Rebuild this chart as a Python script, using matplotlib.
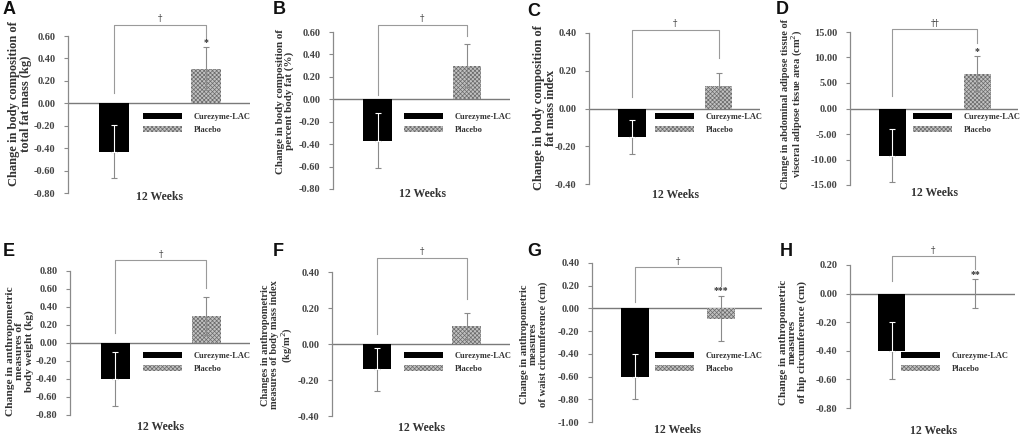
import matplotlib
matplotlib.use('Agg')
import matplotlib.pyplot as plt
from matplotlib.patches import Patch
from matplotlib.transforms import blended_transform_factory
import numpy as np

# ---------------- data ----------------
panels = ['A', 'B', 'C', 'D', 'E', 'F', 'G', 'H']
groups = ['Curezyme-LAC', 'Placebo']
xlabel = '12 Weeks'
ylabels = [
    'Change in body composition of\ntotal fat mass (kg)',
    'Change in body composition of\npercent body fat (%)',
    'Change in body composition of\nfat mass index',
    'Change in abdominal adipose tissue of\nvisceral adipose tissue area (cm$^{2}$)',
    'Change in anthropometric\nmeasures of\nbody weight (kg)',
    'Changes in anthropometric\nmeasures of body mass index\n(kg/m$^{2}$)',
    'Change in anthropometric\nmeasures\nof waist circumference (cm)',
    'Change in anthropometric\nmeasures\nof hip circumference (cm)',
]
y_min = [-0.8, -0.8, -0.4, -15, -0.8, -0.4, -1.0, -0.8]
y_max = [0.6, 0.6, 0.4, 15, 0.8, 0.4, 0.4, 0.2]
y_step = [0.2, 0.2, 0.2, 5, 0.2, 0.2, 0.2, 0.2]

cur_mean = [-0.43, -0.37, -0.15, -9.3, -0.40, -0.14, -0.60, -0.40]
cur_err = [0.24, 0.245, 0.09, 5.2, 0.30, 0.12, 0.20, 0.20]
pla_mean = [0.31, 0.30, 0.12, 6.8, 0.30, 0.10, -0.09, 0.00]
pla_err = [0.19, 0.19, 0.07, 3.4, 0.21, 0.07, 0.20, 0.10]

bracket_top = [0.70, 0.665, 0.418, 15.6, 0.92, 0.48, 0.365, 0.26]
bracket_left = [0.09, 0.04, 0.063, 2.4, 0.11, 0.056, 0.06, 0.09]
bracket_right = [0.56, 0.56, 0.27, 12.8, 0.61, 0.25, 0.20, 0.17]
bracket_mark = ['\u2020', '\u2020', '\u2020', '\u2020\u2020', '\u2020', '\u2020', '\u2020', '\u2020']
star_mark = ['*', '', '', '*', '', '', '***', '**']

# ---------------- layout (pixels) ----------------
W, H = 1024, 438
axes_px = [  # left, top, right, bottom
    (68, 36, 250, 193), (333, 32, 510, 189), (589, 33, 760, 184), (850, 32, 1018, 185),
    (70, 271, 250, 415), (332, 272, 510, 416), (592, 263, 762, 422), (850, 265, 1015, 408),
]
letter_px = [(3, 10), (273, 10), (527, 11), (776, 9), (3, 252), (273, 251), (527, 251), (780, 251)]
ylabel_x_px = [20, 285, 545, 793, 20, 278, 534, 793]
ylabel_y_px = [104, 101, 108, 104, 351, 345, 344, 342]
ylabel_size = [9, 7.9, 9, 7.5, 8.2, 7.5, 7.7, 8.0]
legend_px = [(143, 118), (404, 118), (655, 118), (913, 118),
             (143, 357), (404, 357), (655, 357), (901, 357)]
xlabel_off_px = [4, 5, 11, 8, 12, 12, 8, 23]

plt.rcParams['hatch.linewidth'] = 0.5
SERIF = 'Liberation Serif'
BLACK = '#000000'
GREY_FACE = '#c2c2c2'
HATCH_COL = '#6a6a6a'
HATCH = 'xxxxxxxx'
LINE_COL = '#8a8a8a'
TEXT_COL = '#333333'

fig = plt.figure(figsize=(W / 100, H / 100), dpi=100)
fig.patch.set_facecolor('white')

for i in range(8):
    l, t, r, b = axes_px[i]
    ax = fig.add_axes([l / W, 1 - b / H, (r - l) / W, (b - t) / H])
    ax.set_xlim(-0.5, 1.48)
    ax.set_ylim(y_min[i], y_max[i])
    ticks = np.round(np.arange(y_min[i], y_max[i] + y_step[i] / 2, y_step[i]), 6)
    ax.set_yticks(ticks)
    ax.set_yticklabels([f'{v + 0.0:.2f}' if abs(v) > 1e-9 else '0.00' for v in ticks])
    ax.set_xticks([])
    for s in ['top', 'right', 'bottom']:
        ax.spines[s].set_visible(False)
    ax.spines['left'].set_color(LINE_COL)
    ax.spines['left'].set_linewidth(0.9)
    ax.tick_params(axis='y', direction='out', length=3, width=0.8, color=LINE_COL,
                   labelsize=7.5, labelcolor='#444444', pad=6)
    for lab in ax.get_yticklabels():
        lab.set_fontfamily(SERIF)
        lab.set_fontweight('bold')
    ax.axhline(0, color='#7a7a7a', lw=1.0, zorder=1)

    # bars
    ax.bar(0, cur_mean[i], 0.32, color=BLACK, linewidth=0, zorder=2)
    ax.bar(1, pla_mean[i], 0.32, color=GREY_FACE, hatch=HATCH, edgecolor=HATCH_COL,
           linewidth=0, zorder=2)
    # error bars
    ax.errorbar(0, cur_mean[i], yerr=[[cur_err[i]], [0]], fmt='none', ecolor=LINE_COL,
                elinewidth=0.8, capsize=2, capthick=0.8, zorder=3)
    ax.errorbar(0, cur_mean[i], yerr=[[0], [cur_err[i]]], fmt='none', ecolor='white',
                elinewidth=0.8, capsize=2, capthick=0.8, zorder=3)
    ax.errorbar(1, pla_mean[i], yerr=pla_err[i], fmt='none', ecolor=LINE_COL,
                elinewidth=0.8, capsize=2, capthick=0.8, zorder=3)

    # significance bracket
    ax.plot([0, 0, 1, 1], [bracket_left[i], bracket_top[i], bracket_top[i], bracket_right[i]],
            color='#9a9a9a', lw=0.8, clip_on=False, zorder=3)
    ax.annotate(bracket_mark[i], (0.5, bracket_top[i]), xytext=(0, 1), textcoords='offset points',
                ha='center', va='bottom', fontsize=6.5, color=TEXT_COL, fontfamily='DejaVu Serif',
                annotation_clip=False)
    if star_mark[i]:
        ax.annotate(star_mark[i], (1, pla_mean[i] + pla_err[i]), xytext=(0, 0.5),
                    textcoords='offset points', ha='center', va='bottom', fontsize=7,
                    color=TEXT_COL, fontfamily=SERIF, fontweight='bold', annotation_clip=False)

    # y label
    ax.set_ylabel(ylabels[i], fontsize=ylabel_size[i], fontfamily=SERIF, fontweight='bold',
                  color=TEXT_COL, linespacing=1.0)
    ax.yaxis.label.set_verticalalignment('center')
    ax.yaxis.set_label_coords((ylabel_x_px[i] - l) / (r - l), (b - ylabel_y_px[i]) / (b - t))

    # x label
    tr = blended_transform_factory(ax.transData, ax.transAxes)
    ax.text(0.5, -xlabel_off_px[i] / (b - t), xlabel, transform=tr, ha='center', va='center',
            fontsize=8.5, fontfamily=SERIF, fontweight='bold', color=TEXT_COL)

    # legend
    lx, ly = legend_px[i]
    handles = [Patch(facecolor=BLACK, edgecolor=BLACK, linewidth=0, label=groups[0]),
               Patch(facecolor=GREY_FACE, hatch=HATCH, edgecolor=HATCH_COL, linewidth=0,
                     label=groups[1])]
    ax.legend(handles=handles, loc='upper left',
              bbox_to_anchor=((lx - l) / (r - l), (b - (ly - 5)) / (b - t)),
              frameon=False, borderpad=0, borderaxespad=0, handlelength=4.7, handleheight=0.7,
              handletextpad=1.4, labelspacing=0.55,
              prop={'family': SERIF, 'weight': 'bold', 'size': 6}, labelcolor=TEXT_COL)

    # panel letter
    fx, fy = letter_px[i]
    fig.text(fx / W, 1 - fy / H, panels[i], ha='left', va='center', fontsize=13,
             fontweight='bold', fontfamily='Liberation Sans', color='#111111')

fig.savefig('out.png', dpi=100)
